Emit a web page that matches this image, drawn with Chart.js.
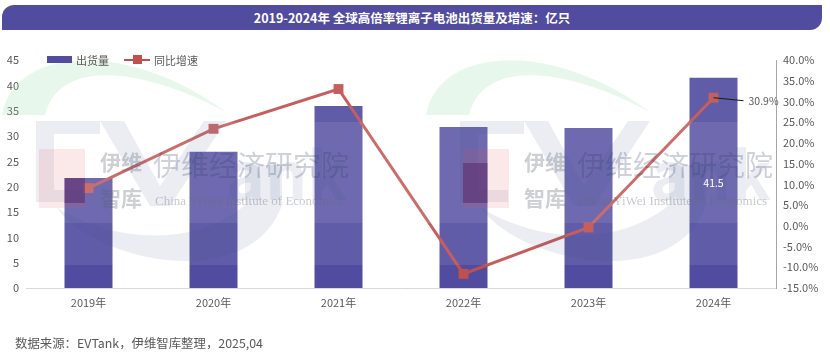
<!DOCTYPE html>
<html>
<head>
<meta charset="utf-8">
<style>
  html, body { margin: 0; padding: 0; background: #fff; }
  body { width: 830px; height: 355px; position: relative; overflow: hidden; font-family: "Noto Sans CJK SC", sans-serif; }
  #title { position: absolute; left: 2px; top: 5px; width: 820px; height: 25px; line-height: 25px; text-align: center; background: #524ca0; color: #fff; font-size: 12.5px; font-weight: 700; border-radius: 12px 0 12px 0; }
  #source { position: absolute; left: 15px; top: 335px; font-size: 12.4px; color: #595959; line-height: 16px; }
  #wrap { position: absolute; left: 0; top: 0; width: 830px; height: 355px; }
  #legend { position: absolute; left: 47px; top: 52px; height: 16px; line-height: 16px; font-size: 11px; color: #595959; white-space: nowrap; }
  #legend span { position: absolute; top: 0; }
  #legend i { position: absolute; display: block; }
</style>
<script src="https://cdn.jsdelivr.net/npm/chart.js@4"></script>
</head>
<body>
<div id="title">2019-2024年 全球高倍率锂离子电池出货量及增速：亿只</div>
<div id="wrap"><canvas id="chart" width="830" height="355"></canvas></div>
<div id="legend">
  <i style="left:0;top:4px;width:25px;height:7px;background:#524ca0"></i>
  <span id="name0" style="left:29px"></span>
  <i style="left:77px;top:7px;width:26px;height:2px;background:#c0504d"></i>
  <i style="left:86px;top:3px;width:9px;height:9px;background:#c0504d"></i>
  <span id="name1" style="left:107px"></span>
</div>
<div id="source">数据来源：EVTank，伊维智库整理，2025,04</div>
<script>
// values
const years = ["2019年", "2020年", "2021年", "2022年", "2023年", "2024年"];
const shipments = [21.7, 26.9, 35.9, 31.8, 31.6, 41.5];
const growth = [9.1, 23.4, 33.0, -11.6, -0.4, 30.9];
const seriesNames = ["出货量", "同比增速"];

const barColor = "#524ca0";
const lineColor = "#c0504d";
const tickColor = "#595959";
const fontName = '"Noto Sans CJK SC", sans-serif';

document.getElementById("name0").textContent = seriesNames[0];
document.getElementById("name1").textContent = seriesNames[1];

// logo that sits over the chart, drawn twice
function drawLogo(g, x, bars) {
  g.save();
  g.translate(x, 0);

  // green arc
  g.fillStyle = "rgba(150,220,170,0.22)";
  g.beginPath();
  g.moveTo(2, 115);
  g.bezierCurveTo(15, 45, 130, 40, 227, 113);
  g.bezierCurveTo(150, 70, 60, 55, 45, 115);
  g.closePath();
  g.fill();

  const ink = "rgba(60,80,140,0.1)";
  g.fillStyle = ink;
  // E
  g.beginPath();
  g.rect(36, 121, 18, 81);
  g.rect(54, 121, 46, 13);
  g.rect(54, 190, 30, 12);
  g.fill();
  // V
  g.beginPath();
  g.moveTo(100, 121);
  g.lineTo(124, 121);
  g.lineTo(160, 186);
  g.lineTo(204, 121);
  g.lineTo(226, 121);
  g.lineTo(170, 206);
  g.lineTo(150, 206);
  g.closePath();
  g.fill();
  // rest of the word
  g.font = "700 66px " + fontName;
  g.textBaseline = "alphabetic";
  g.fillText("ank", 226, 200);

  // swoosh under the letters
  g.beginPath();
  g.moveTo(57, 208);
  g.bezierCurveTo(95, 262, 250, 295, 282, 205);
  g.lineTo(282, 165);
  g.lineTo(245, 165);
  g.lineTo(245, 205);
  g.bezierCurveTo(190, 250, 110, 240, 57, 208);
  g.closePath();
  g.fill();

  // red block
  g.fillStyle = "rgba(225,80,80,0.13)";
  g.fillRect(39, 149, 46, 59);
  g.save();
  g.beginPath();
  bars.forEach(function (b) {
    g.rect(b.x - b.width / 2 - x, b.y, b.width, b.base - b.y);
  });
  g.clip();
  g.fillStyle = "rgba(70,10,80,0.35)";
  g.fillRect(39, 163, 46, 40);
  g.restore();

  g.fillStyle = "rgba(90,95,110,0.3)";
  g.font = "700 21px " + fontName;
  g.fillText("伊维", 100, 170);
  g.fillText("智库", 100, 206);
  g.fillStyle = "rgba(50,60,100,0.24)";
  g.font = "28px " + fontName;
  g.fillText("伊维经济研究院", 153, 176);
  g.fillStyle = "rgba(100,105,120,0.36)";
  g.font = "13px 'Liberation Serif', serif";
  g.fillText("China YiWei Institute of Economics", 155, 205);
  g.restore();
}

const overlay = {
  id: "overlay",
  afterDatasetsDraw(chart) {
    const g = chart.ctx;
    const last = years.length - 1;
    const bars = chart.getDatasetMeta(1).data;
    const point = chart.getDatasetMeta(0).data[last];
    const area = chart.chartArea;

    // the pale bands that lie across the bars
    g.save();
    g.fillStyle = "rgba(255,255,255,0.09)";
    g.fillRect(area.left, area.top, area.right - area.left, 205);
    g.fillStyle = "rgba(255,255,255,0.09)";
    g.fillRect(area.left, 122, area.right - area.left, 101);
    g.restore();

    drawLogo(g, 0, bars);
    drawLogo(g, 424, bars);

    // only the last year is labelled
    g.save();
    g.font = "10.5px " + fontName;
    g.textBaseline = "middle";
    g.fillStyle = "#ffffff";
    g.textAlign = "center";
    g.fillText(String(shipments[last]), bars[last].x, (bars[last].y + bars[last].base) / 2);
    g.strokeStyle = "#1a1a1a";
    g.lineWidth = 1;
    g.beginPath();
    g.moveTo(point.x, point.y);
    g.lineTo(point.x + 30, point.y + 3);
    g.stroke();
    g.fillStyle = tickColor;
    g.textAlign = "left";
    g.fillText(growth[last].toFixed(1) + "%", point.x + 35, point.y + 3);
    g.restore();
  }
};

new Chart(document.getElementById("chart"), {
  data: {
    labels: years,
    datasets: [
      {
        type: "line",
        label: seriesNames[1],
        data: growth,
        yAxisID: "y2",
        order: 1,
        borderColor: lineColor,
        borderWidth: 3,
        tension: 0,
        pointStyle: "rect",
        pointRadius: 7,
        pointBorderWidth: 0,
        pointBackgroundColor: lineColor
      },
      {
        type: "bar",
        label: seriesNames[0],
        data: shipments,
        yAxisID: "y",
        order: 2,
        backgroundColor: barColor,
        categoryPercentage: 1,
        barPercentage: 0.384
      }
    ]
  },
  options: {
    responsive: false,
    animation: false,
    layout: { padding: { left: 0, right: 0, top: 60, bottom: 0 } },
    scales: {
      x: {
        grid: { display: false, drawTicks: false },
        border: { color: "#d9d9d9", width: 1 },
        ticks: { color: tickColor, font: { family: fontName, size: 11 }, padding: 8, maxRotation: 0 },
        afterFit(s) { s.height = 67; }
      },
      y: {
        position: "left",
        min: 0,
        max: 45,
        grid: { display: false, drawTicks: false },
        border: { display: false },
        ticks: { stepSize: 5, color: tickColor, padding: 7, font: { family: fontName, size: 11 } },
        afterFit(s) { s.width = 26; }
      },
      y2: {
        position: "right",
        min: -15,
        max: 40,
        grid: { display: false, drawTicks: false },
        border: { color: "#a6a6a6", width: 1 },
        ticks: {
          stepSize: 5,
          color: tickColor,
          padding: 7,
          font: { family: fontName, size: 11 },
          callback: function (v) { return v.toFixed(1) + "%"; }
        },
        afterFit(s) { s.width = 54; }
      }
    },
    plugins: {
      title: { display: false },
      legend: { display: false },
      tooltip: { enabled: false }
    }
  },
  plugins: [overlay]
});
</script>
</body>
</html>
